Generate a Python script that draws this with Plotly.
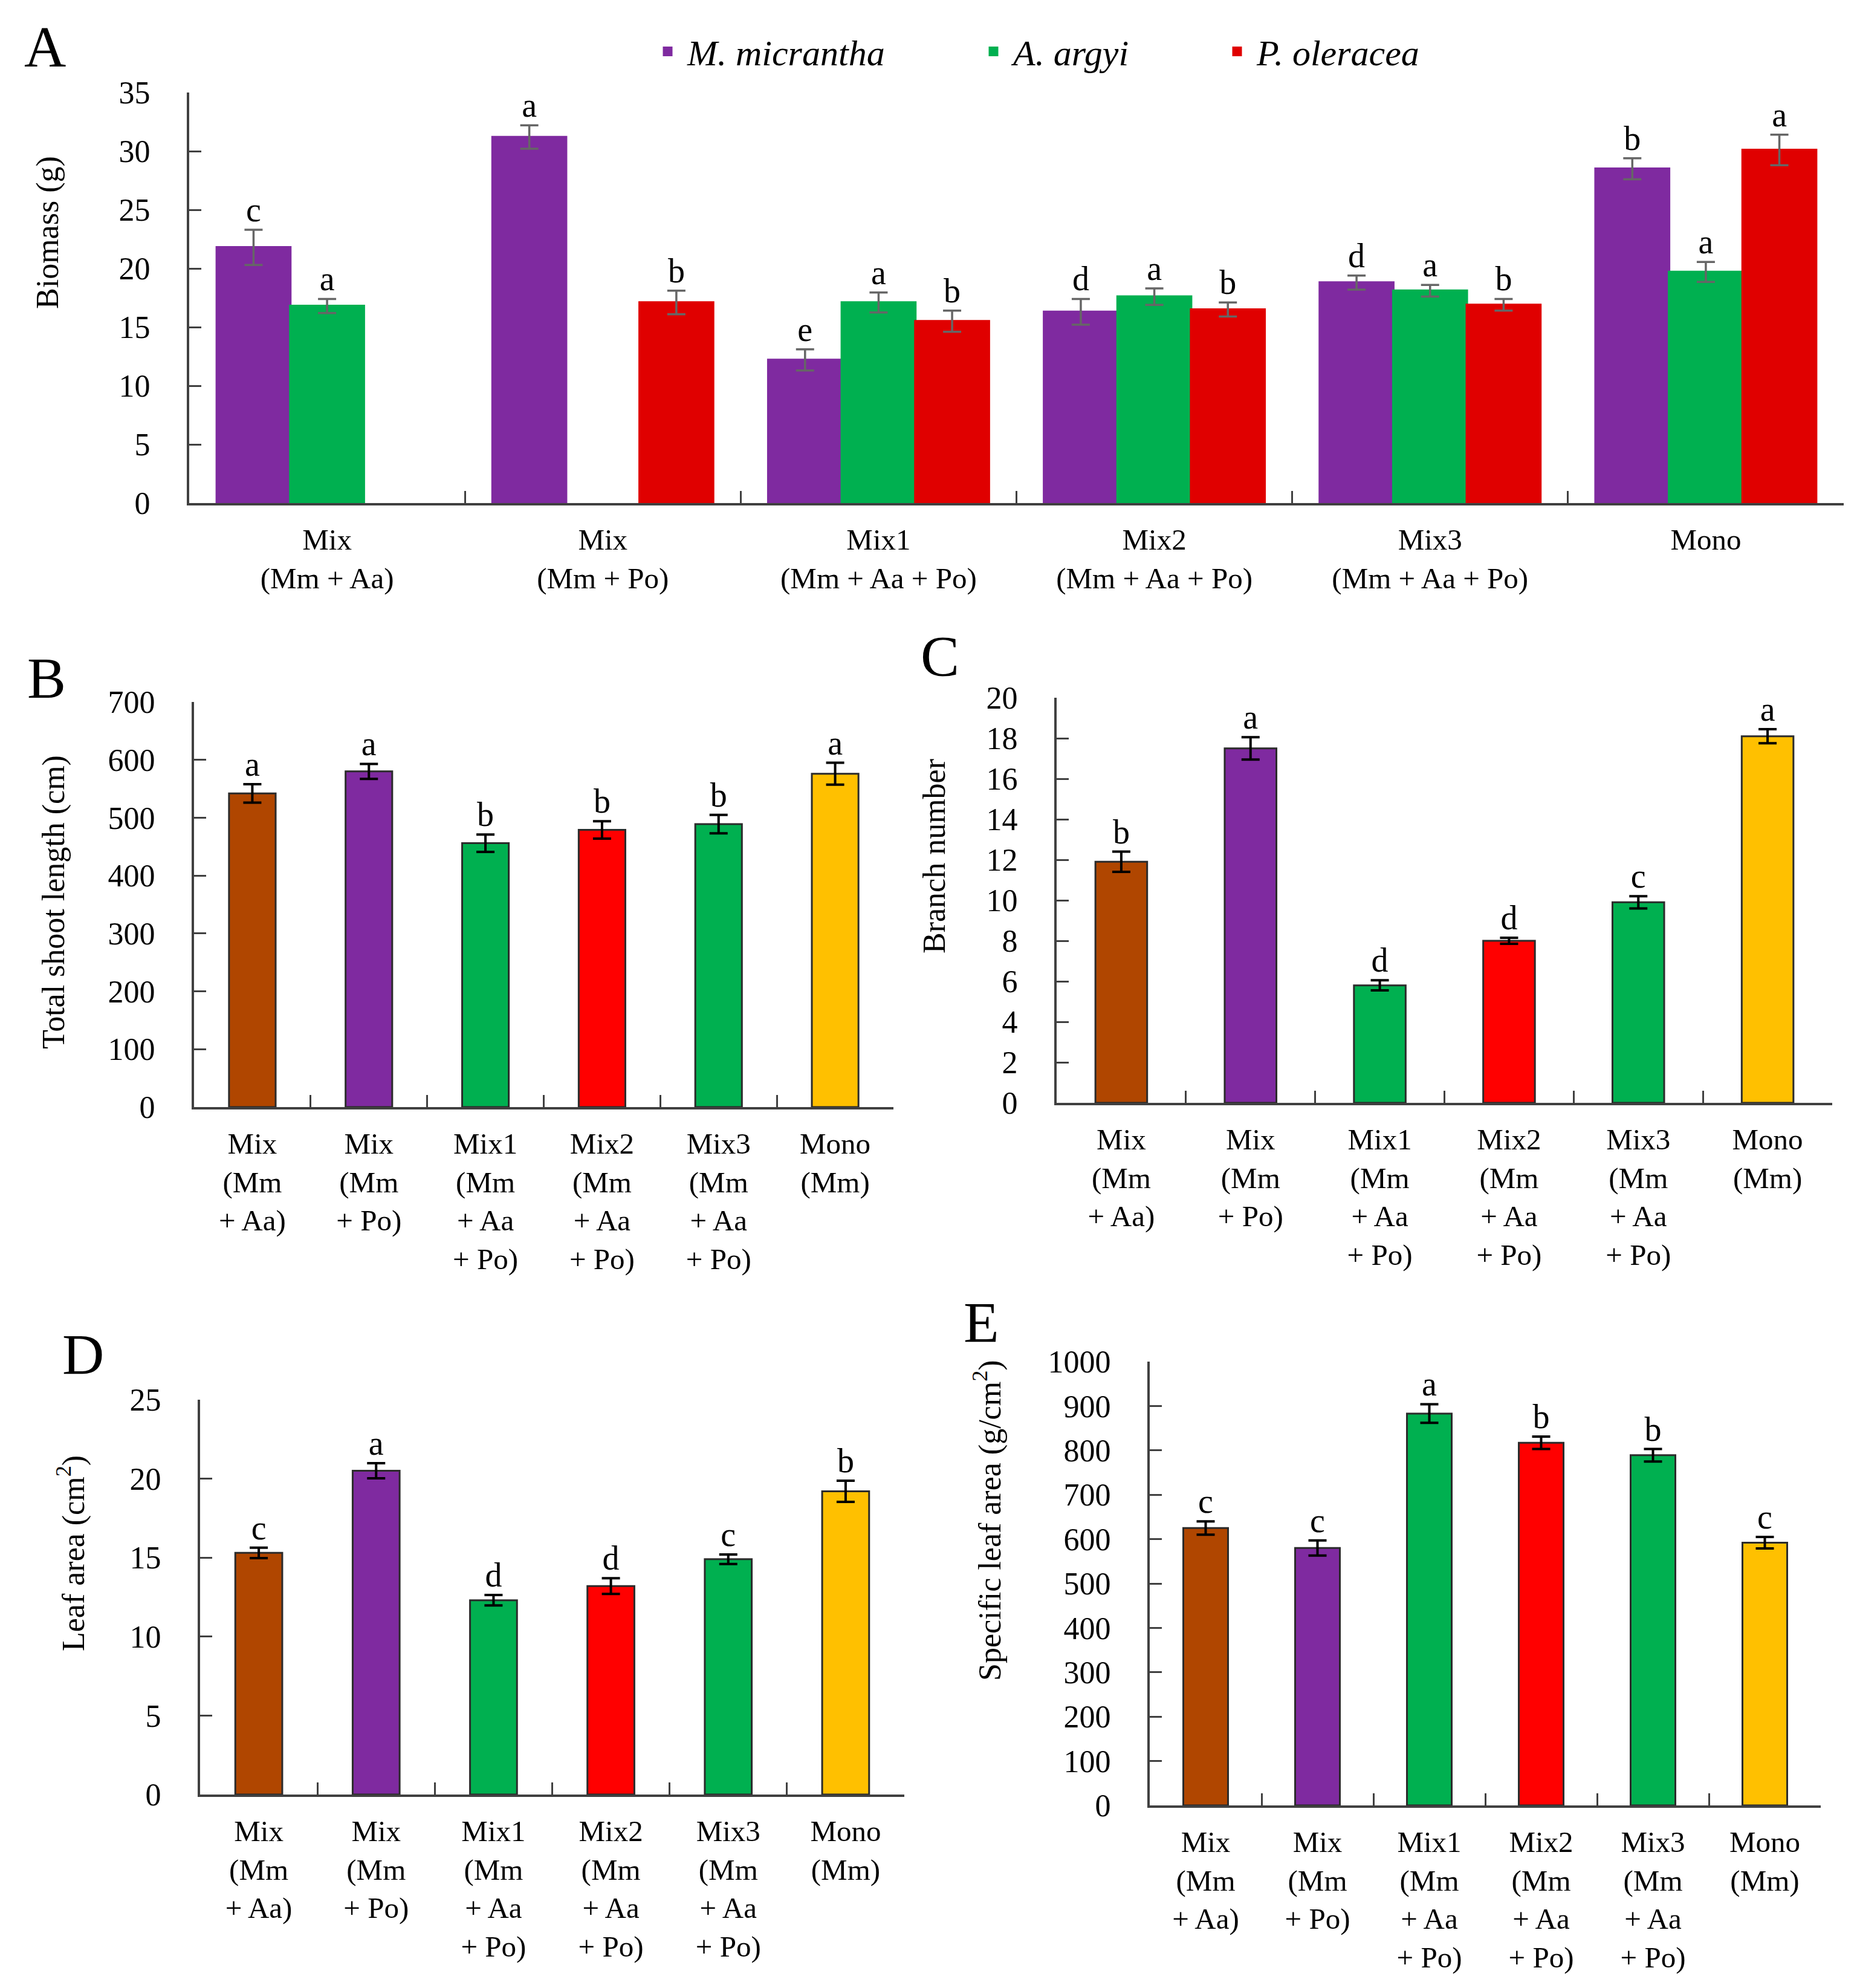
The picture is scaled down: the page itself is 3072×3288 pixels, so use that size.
import plotly.graph_objects as go

W, H = 3072, 3288          # browser window
PAGE_MARGIN = 8            # default <body> margin around the plot div
FW, FH = W - 2 * PAGE_MARGIN, H - 2 * PAGE_MARGIN
FONT = "Liberation Serif"

# ---- panel A: biomass, grouped by treatment ----
a_groups = ["Mix<br>(Mm + Aa)", "Mix<br>(Mm + Po)", "Mix1<br>(Mm + Aa + Po)",
            "Mix2<br>(Mm + Aa + Po)", "Mix3<br>(Mm + Aa + Po)", "Mono"]
a_species = ["<i>M. micrantha</i>", "<i>A. argyi</i>", "<i>P. oleracea</i>"]
a_mm = [21.8, 31.2, 12.2, 16.3, 18.8, 28.5]
a_mm_err = [1.5, 1.0, 0.9, 1.1, 0.6, 0.9]
a_mm_sig = ["c", "a", "e", "d", "d", "b"]
a_aa = [16.8, None, 17.1, 17.6, 18.1, 19.7]
a_aa_err = [0.6, None, 0.85, 0.7, 0.5, 0.85]
a_aa_sig = ["a", None, "a", "a", "a", "a"]
a_po = [None, 17.1, 15.5, 16.5, 16.9, 30.1]
a_po_err = [None, 1.0, 0.9, 0.6, 0.5, 1.3]
a_po_sig = [None, "b", "b", "b", "b", "a"]
a_colors = ["#7F2AA0", "#00B050", "#E00000"]

# ---- panels B-E: M. micrantha traits ----
treatments = ["Mix<br>(Mm<br>+ Aa)", "Mix<br>(Mm<br>+ Po)", "Mix1<br>(Mm<br>+ Aa<br>+ Po)",
              "Mix2<br>(Mm<br>+ Aa<br>+ Po)", "Mix3<br>(Mm<br>+ Aa<br>+ Po)", "Mono<br>(Mm)"]
trt_colors = ["#B04600", "#7F2AA0", "#00B050", "#FF0000", "#00B050", "#FFC000"]

shoot = [542, 580, 456, 479, 489, 576]
shoot_err = [16, 13, 15, 15, 16, 19]
shoot_sig = ["a", "a", "b", "b", "b", "a"]

branch = [11.9, 17.5, 5.8, 8.0, 9.9, 18.1]
branch_err = [0.5, 0.55, 0.25, 0.15, 0.3, 0.35]
branch_sig = ["b", "a", "d", "d", "c", "a"]

leaf = [15.3, 20.5, 12.3, 13.2, 14.9, 19.2]
leaf_err = [0.33, 0.48, 0.33, 0.5, 0.3, 0.67]
leaf_sig = ["c", "a", "d", "d", "c", "b"]

sla = [625, 580, 883, 817, 789, 592]
sla_err = [15, 17, 21, 14, 14, 13]
sla_sig = ["c", "c", "a", "b", "b", "c"]


# page pixel -> paper fraction
def px_x(p):
    return (p - PAGE_MARGIN) / FW


def px_y(p):
    return 1 - (p - PAGE_MARGIN) / FH


fig = go.Figure()

# panel A bars + significance letters (one legend box per species)
a_series = [(a_mm, a_mm_err, a_mm_sig), (a_aa, a_aa_err, a_aa_sig), (a_po, a_po_err, a_po_sig)]
legend_ids = ["legend", "legend2", "legend3"]
for i, (vals, errs, sig) in enumerate(a_series):
    fig.add_trace(go.Bar(
        x=a_groups, y=vals, name=a_species[i], marker_color=a_colors[i],
        marker_line=dict(color=a_colors[i], width=4), offsetgroup=str(i),
        error_y=dict(type="data", array=errs, color="#666666", thickness=3.5, width=15),
        xaxis="x", yaxis="y", legend=legend_ids[i]))
for i, (vals, errs, sig) in enumerate(a_series):
    keep = [k for k, v in enumerate(vals) if v is not None]
    fig.add_trace(go.Scatter(
        x=[a_groups[k] for k in keep], y=[vals[k] + errs[k] for k in keep],
        text=[sig[k] for k in keep], mode="text", textposition="top center",
        textfont=dict(family=FONT, size=56, color="black"), orientation="v",
        offsetgroup=str(i), xaxis="x", yaxis="y", showlegend=False, hoverinfo="skip"))

panels = [
    (shoot, shoot_err, shoot_sig, "2"),
    (branch, branch_err, branch_sig, "3"),
    (leaf, leaf_err, leaf_sig, "4"),
    (sla, sla_err, sla_sig, "5"),
]
for vals, errs, sig, ax in panels:
    fig.add_trace(go.Bar(
        x=treatments, y=vals, width=0.4, marker_color=trt_colors,
        marker_line=dict(color="#2b2b2b", width=3),
        error_y=dict(type="data", array=errs, color="black", thickness=4, width=15),
        xaxis="x" + ax, yaxis="y" + ax, showlegend=False))
    fig.add_trace(go.Scatter(
        x=treatments, y=[v + e for v, e in zip(vals, errs)], text=sig, mode="text",
        textposition="top center", textfont=dict(family=FONT, size=56, color="black"),
        orientation="v", xaxis="x" + ax, yaxis="y" + ax, showlegend=False, hoverinfo="skip"))

xcommon = dict(type="category", showline=True, linecolor="#404040", linewidth=4,
               ticks="inside", tickson="boundaries", ticklen=20, tickwidth=3, tickcolor="#404040",
               tickfont=dict(family=FONT, size=49, color="black"), showgrid=False,
               zeroline=False, ticklabelstandoff=14, automargin=False)
ycommon = dict(showline=True, linecolor="#404040", linewidth=4, ticks="inside",
               ticklen=20, tickwidth=3, tickcolor="#404040",
               tickfont=dict(family=FONT, size=52, color="black"), showgrid=False,
               zeroline=False, ticklabelstandoff=50, automargin=False)
legcommon = dict(orientation="h", y=px_y(85), xanchor="left", yanchor="middle",
                 font=dict(family=FONT, size=60, color="black"), bgcolor="rgba(0,0,0,0)",
                 itemwidth=55)

fig.update_layout(
    width=FW, height=FH, margin=dict(l=0, r=0, t=0, b=0),
    paper_bgcolor="white", plot_bgcolor="white",
    barmode="group", bargap=0.2, bargroupgap=0,
    scattermode="group", scattergap=0.2,
    font=dict(family=FONT, size=52, color="black"),
    legend=dict(legcommon, x=px_x(1072)),
    legend2=dict(legcommon, x=px_x(1611)),
    legend3=dict(legcommon, x=px_x(2014)),
    xaxis=dict(xcommon, domain=[px_x(313), px_x(3050)], anchor="y"),
    yaxis=dict(ycommon, domain=[px_y(832), px_y(153)], range=[0, 35], dtick=5, anchor="x"),
    xaxis2=dict(xcommon, domain=[px_x(321), px_x(1478)], anchor="y2"),
    yaxis2=dict(ycommon, domain=[px_y(1831), px_y(1161)], range=[0, 700], dtick=100, anchor="x2"),
    xaxis3=dict(xcommon, domain=[px_x(1748), px_x(3031)], anchor="y3"),
    yaxis3=dict(ycommon, domain=[px_y(1824), px_y(1154)], range=[0, 20], dtick=2, anchor="x3"),
    xaxis4=dict(xcommon, domain=[px_x(331), px_x(1496)], anchor="y4"),
    yaxis4=dict(ycommon, domain=[px_y(2968), px_y(2315)], range=[0, 25], dtick=5, anchor="x4"),
    xaxis5=dict(xcommon, domain=[px_x(1902), px_x(3012)], anchor="y5"),
    yaxis5=dict(ycommon, domain=[px_y(2986), px_y(2252)], range=[0, 1000], dtick=100, anchor="x5"),
)

# y-axis titles
for text, cx, cy in [("Biomass (g)", 79, 385),
                     ("Total shoot length (cm)", 89, 1492),
                     ("Branch number", 1545, 1416),
                     ("Leaf area (cm<sup>2</sup>)", 118, 2569),
                     ("Specific leaf area (g/cm<sup>2</sup>)", 1634, 2515)]:
    fig.add_annotation(text=text, x=px_x(cx), y=px_y(cy), xref="paper", yref="paper",
                       textangle=-90, showarrow=False, xanchor="center", yanchor="middle",
                       font=dict(family=FONT, size=52, color="black"))

# panel letters
for letter, cx, cy in [("A", 74, 77), ("B", 77, 1121), ("C", 1555, 1085),
                       ("D", 137, 2240), ("E", 1624, 2187)]:
    fig.add_annotation(text=letter, x=px_x(cx), y=px_y(cy), xref="paper", yref="paper",
                       showarrow=False, xanchor="center", yanchor="middle",
                       font=dict(family=FONT, size=96, color="black"))

fig.write_html("out.html")
